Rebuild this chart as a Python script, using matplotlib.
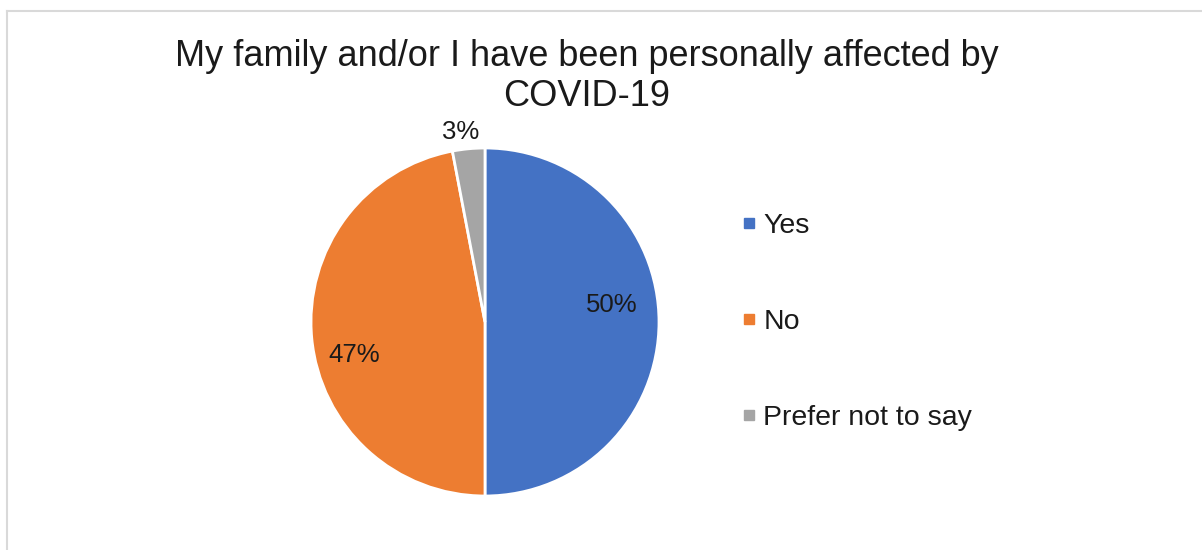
import numpy as np
import matplotlib
matplotlib.use('Agg')
import matplotlib.pyplot as plt
from matplotlib.lines import Line2D

# survey answers
labels = ['Yes', 'No', 'Prefer not to say']
shares = [50, 47, 3]
colors = ['#4472C4', '#ED7D31', '#A5A5A5']

plt.rcParams['font.family'] = ['Liberation Sans', 'DejaVu Sans']

W, H = 1202, 550
fig = plt.figure(figsize=(W / 100, H / 100), dpi=100)

# light frame along top and left edge
fig.add_artist(Line2D([6.5 / W, 6.5 / W], [0, 1 - 10.5 / H], color='#D9D9D9', lw=1.5))
fig.add_artist(Line2D([6.5 / W, 1], [1 - 10.5 / H, 1 - 10.5 / H], color='#D9D9D9', lw=1.5))

cx, cy, r = 485, H - 322, 174
ax = fig.add_axes([(cx - r) / W, (cy - r) / H, 2 * r / W, 2 * r / H])

wedges, texts, autotexts = ax.pie(
    shares, colors=colors, startangle=90, counterclock=False,
    autopct='%1.0f%%', pctdistance=0.76,
    wedgeprops=dict(edgecolor='white', linewidth=2),
    textprops=dict(fontsize=18.5, color='#1a1a1a'))
ax.set_xlim(-1, 1)
ax.set_ylim(-1, 1)

# label placement inside/outside the slices
label_pos = [(0.73, 0.10), (-0.75, -0.19), (-0.14, 1.09)]
for t, p in zip(autotexts, label_pos):
    t.set_position(p)

fig.text(587 / W, 1 - 56 / H, 'My family and/or I have been personally affected by',
         ha='center', va='center', fontsize=26, color='#1a1a1a')
fig.text(587 / W, 1 - 97 / H, 'COVID-19',
         ha='center', va='center', fontsize=26, color='#1a1a1a')

# small square legend keys
handles = [Line2D([], [], ls='none', marker='s', markersize=6.5,
                  markerfacecolor=c, markeredgecolor=c) for c in colors]
leg = fig.legend(handles, labels, loc='center left', bbox_to_anchor=(715 / W, 1 - 322 / H),
                 frameon=False, fontsize=20.5, handlelength=0.6,
                 handletextpad=0.2, labelspacing=2.45, labelcolor='#1a1a1a')

fig.savefig('out.png', dpi=100, facecolor='white')
